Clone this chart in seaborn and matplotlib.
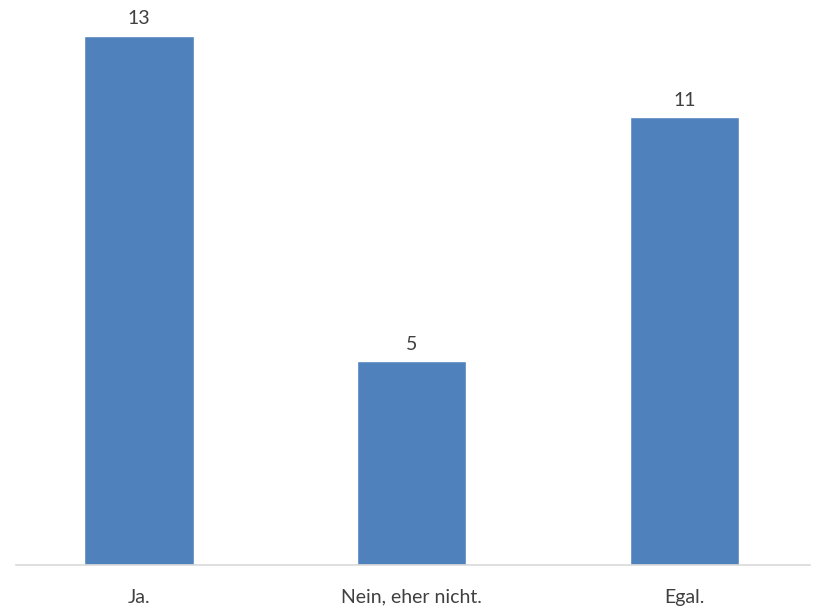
import matplotlib
matplotlib.use("Agg")
import matplotlib.pyplot as plt
import seaborn as sns

categories = ["Ja.", "Nein, eher nicht.", "Egal."]
values = [13, 5, 11]

sns.set_style("white")
plt.rcParams['font.family'] = ['Lato', 'DejaVu Sans']

fig = plt.figure(figsize=(8.23, 6.10), dpi=100)
ax = fig.add_axes([16 / 823, 45 / 610, 794 / 823, 565 / 610])

sns.barplot(x=categories, y=values, color="#4F81BD", width=0.4, saturation=1, ax=ax)

ax.set_xlim(-0.451, 2.46)
ax.set_ylim(0, 13.88)
for i, v in enumerate(values):
    ax.annotate(str(v), (i, v), xytext=(0, 6), textcoords="offset points",
                ha="center", va="bottom", fontsize=14, color="#404040")

for s in ["top", "right", "left"]:
    ax.spines[s].set_visible(False)
ax.spines["bottom"].set_color("#D9D9D9")
ax.spines["bottom"].set_linewidth(1.2)
ax.set_yticks([])
ax.tick_params(axis="x", length=0, pad=17, labelsize=14, labelcolor="#404040")
ax.set_xlabel("")
ax.set_ylabel("")

fig.savefig("out.png", dpi=100)
